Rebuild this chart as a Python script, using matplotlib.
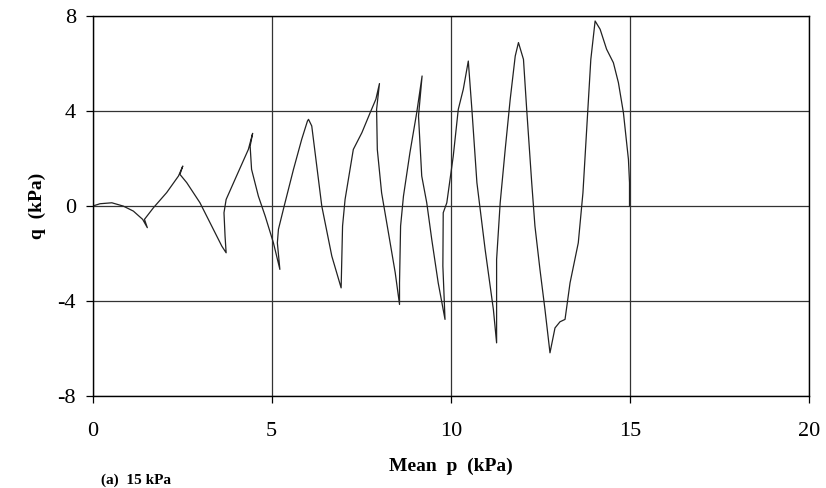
import matplotlib
matplotlib.use("Agg")
import matplotlib.pyplot as plt

p_values = [0.0, 0.21, 0.54, 0.86, 1.14, 1.40, 1.53, 1.45, 1.70, 2.07, 2.40, 2.52, 2.44, 2.63,
            3.00, 3.28, 3.61, 3.73, 3.70, 3.67, 3.73, 4.02, 4.35, 4.47, 4.40, 4.44, 4.63, 4.82,
            5.05, 5.23, 5.16, 5.19, 5.35, 5.61, 5.84, 6.00, 6.03, 6.12, 6.26, 6.40, 6.68, 6.94,
            6.98, 7.05, 7.28, 7.52, 7.75, 7.91, 8.01, 7.93, 7.95, 8.07, 8.26, 8.45, 8.57, 8.57,
            8.60, 8.68, 8.86, 9.05, 9.20, 9.10, 9.19, 9.33, 9.47, 9.65, 9.84, 9.78, 9.79, 9.89,
            10.07, 10.21, 10.35, 10.49, 10.59, 10.73, 10.96, 11.19, 11.28, 11.28, 11.38, 11.52,
            11.66, 11.80, 11.89, 12.03, 12.12, 12.26, 12.35, 12.49, 12.63, 12.77, 12.91, 13.05,
            13.19, 13.33, 13.56, 13.69, 13.80, 13.91, 14.03, 14.17, 14.35, 14.54, 14.68, 14.82,
            14.91, 14.96, 14.99, 14.99]
q_values = [0.0, 0.10, 0.14, 0.0, -0.21, -0.56, -0.91, -0.56, -0.07, 0.57, 1.27, 1.69, 1.34, 0.99,
            0.14, -0.70, -1.69, -1.97, -1.27, -0.28, 0.28, 1.27, 2.39, 3.07, 2.53, 1.55, 0.42, -0.42,
            -1.55, -2.67, -1.55, -0.98, 0.0, 1.55, 2.82, 3.59, 3.66, 3.38, 1.69, 0.0, -2.11, -3.45,
            -0.84, 0.28, 2.39, 3.10, 3.94, 4.51, 5.17, 4.08, 2.39, 0.56, -1.12, -2.81, -4.15, -3.24,
            -0.84, 0.42, 2.25, 3.94, 5.49, 3.80, 1.27, 0.14, -1.41, -3.24, -4.78, -2.53, -0.28, 0.14,
            2.11, 4.08, 4.93, 6.12, 4.08, 0.99, -1.83, -4.36, -5.77, -2.25, 0.14, 2.39,
            4.51, 6.33, 6.90, 6.19, 4.08, 0.99, -0.84, -2.67, -4.36, -6.19, -5.14, -4.88,
            -4.78, -3.24, -1.55, 0.56, 3.38, 6.19, 7.81, 7.46, 6.62, 6.05, 5.21, 3.94,
            2.67, 1.97, 0.99, 0.0]

x_ticks = [0, 5, 10, 15, 20]
y_ticks = [-8, -4, 0, 4, 8]

plt.rcParams['font.family'] = ['Liberation Serif', 'DejaVu Serif']
plt.rcParams['axes.unicode_minus'] = False

fig = plt.figure(figsize=(8.26, 4.88), dpi=100)
ax = fig.add_axes([0.112, 0.1891, 0.8674, 0.7771])
ax.plot(p_values, q_values, color='#222222', lw=0.9)
ax.set_xlim(0, 20)
ax.set_ylim(-8, 8)
ax.set_xticks(x_ticks)
ax.set_yticks(y_ticks)
ax.grid(True, color='#333333', lw=0.9)
ax.set_axisbelow(True)
for s in ax.spines.values():
    s.set_color('black')
    s.set_linewidth(1.0)
ax.tick_params(axis='both', direction='out', length=5, width=0.9, labelsize=16, colors='black')
ax.tick_params(axis='x', pad=14)
ax.tick_params(axis='y', pad=7)
ax.set_xlabel('Mean  p  (kPa)', fontsize=14, fontweight='bold', labelpad=12)
ax.set_ylabel('q  (kPa)', fontsize=14, fontweight='bold', labelpad=8)
fig.text(0.122, 0.002, '(a)  15 kPa', fontsize=11, fontweight='bold', va='bottom', ha='left')
fig.savefig('out.png', dpi=100)
